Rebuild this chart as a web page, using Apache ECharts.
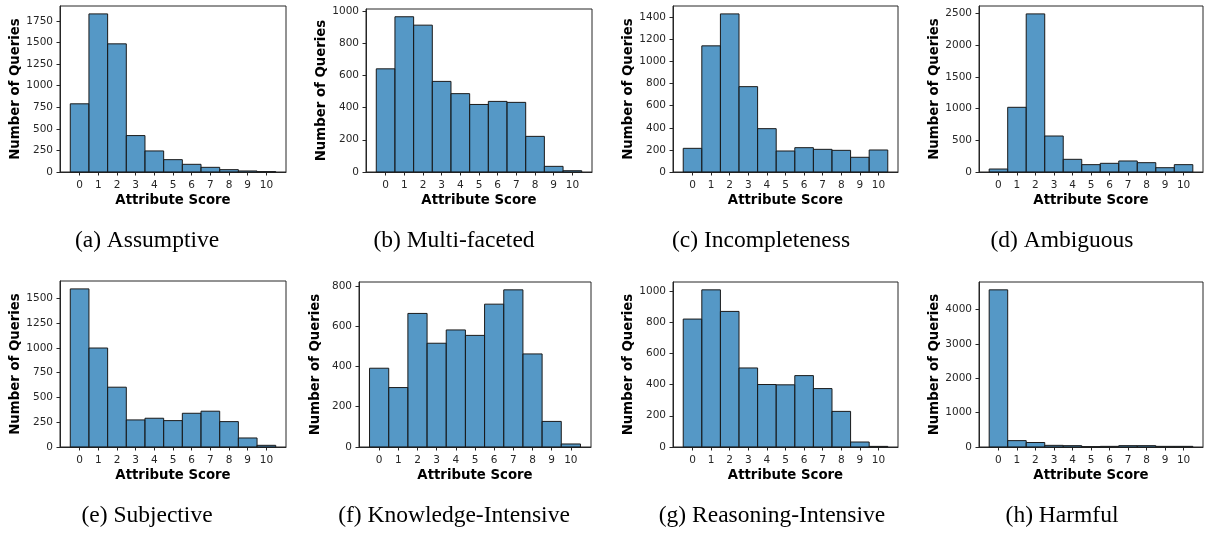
<!DOCTYPE html>
<html>
<head>
<meta charset="utf-8">
<script src="https://cdn.jsdelivr.net/npm/echarts@6/dist/echarts.min.js"></script>
<style>
html,body{margin:0;padding:0;background:#fff;}
#chart{width:1208px;height:536px;}
</style>
</head>
<body>
<div id="chart"></div>
<script>
// Scores (x categories)
const scores = [0,1,2,3,4,5,6,7,8,9,10];

// Counts per attribute score, per panel
const assumptive   = [790, 1832, 1485, 422, 244, 143, 89, 54, 27, 12, 4];
const multiFaceted = [640, 963, 911, 562, 486, 419, 438, 432, 221, 35, 8];
const incompleteness = [214, 1141, 1430, 772, 392, 190, 220, 205, 196, 133, 199];
const ambiguous    = [47, 1021, 2495, 568, 200, 116, 137, 174, 147, 68, 116];
const subjective   = [1594, 998, 603, 273, 290, 266, 340, 361, 256, 91, 17];
const knowledge    = [391, 295, 663, 515, 581, 554, 709, 780, 462, 127, 15];
const reasoning    = [819, 1006, 868, 506, 400, 398, 457, 374, 228, 32, 4];
const harmful      = [4570, 185, 130, 48, 39, 10, 19, 39, 39, 19, 19];

// Y tick labels per panel
const ticksA = [0,250,500,750,1000,1250,1500,1750];
const ticksB = [0,200,400,600,800,1000];
const ticksC = [0,200,400,600,800,1000,1200,1400];
const ticksD = [0,500,1000,1500,2000,2500];
const ticksE = [0,250,500,750,1000,1250,1500];
const ticksF = [0,200,400,600,800];
const ticksG = [0,200,400,600,800,1000];
const ticksH = [0,1000,2000,3000,4000];

// Captions
const captions = ['(a) Assumptive','(b) Multi-faceted','(c) Incompleteness','(d) Ambiguous',
                  '(e) Subjective','(f) Knowledge-Intensive','(g) Reasoning-Intensive','(h) Harmful'];

const panels = [
  {data: assumptive, ticks: ticksA, box: [60, 6, 286, 172], cap: [147, 241]},
  {data: multiFaceted, ticks: ticksB, box: [366, 9, 592, 172], cap: [454, 241]},
  {data: incompleteness, ticks: ticksC, box: [673, 6, 898, 172], cap: [761, 241]},
  {data: ambiguous, ticks: ticksD, box: [979, 6, 1203, 172], cap: [1062, 241]},
  {data: subjective, ticks: ticksE, box: [60, 281, 286, 447], cap: [147, 516]},
  {data: knowledge, ticks: ticksF, box: [359, 282, 591, 447], cap: [454, 516]},
  {data: reasoning, ticks: ticksG, box: [673, 282, 898, 447], cap: [772, 516]},
  {data: harmful, ticks: ticksH, box: [979, 282, 1203, 447], cap: [1062, 516]}
];

const FONT = 'DejaVu Sans';
const grids = [], xAxes = [], yAxes = [], series = [], graphics = [];

panels.forEach((p, i) => {
  const [l, t, r, b] = p.box;
  grids.push({left: l, top: t, width: r - l, height: b - t, show: true,
              borderColor: '#262626', borderWidth: 1, backgroundColor: 'transparent'});
  xAxes.push({
    type: 'value', gridIndex: i, min: -1.05, max: 11.05,
    name: 'Attribute Score', nameLocation: 'middle', nameGap: 22,
    nameTextStyle: {fontFamily: FONT, fontWeight: 'bold', fontSize: 13.3, color: '#000'},
    axisLine: {show: true, onZero: false, lineStyle: {color: '#262626', width: 1}},
    axisTick: {show: true, length: 3.5, lineStyle: {color: '#262626'}, customValues: scores},
    axisLabel: {fontFamily: FONT, fontSize: 10.5, color: '#262626', margin: 7.5, customValues: scores,
                formatter: v => String(v)},
    splitLine: {show: false}
  });
  const ymax = Math.max(...p.data) * 1.05;
  yAxes.push({
    type: 'value', gridIndex: i, min: 0, max: ymax,
    name: 'Number of Queries', nameLocation: 'middle', nameGap: 37,
    nameTextStyle: {fontFamily: FONT, fontWeight: 'bold', fontSize: 13.3, color: '#000'},
    axisLine: {show: true, onZero: false, lineStyle: {color: '#262626', width: 1}},
    axisTick: {show: true, length: 3.5, lineStyle: {color: '#262626'}, customValues: p.ticks},
    axisLabel: {fontFamily: FONT, fontSize: 10.5, color: '#262626', margin: 7, customValues: p.ticks,
                formatter: v => String(v)},
    splitLine: {show: false}
  });
  series.push({
    type: 'custom', xAxisIndex: i, yAxisIndex: i,
    data: scores.map((s, k) => [s, p.data[k]]),
    encode: {x: 0, y: 1},
    renderItem: function (params, api) {
      const x = api.value(0), v = api.value(1);
      const p0 = api.coord([x - 0.5, v]);
      const p1 = api.coord([x + 0.5, 0]);
      return {
        type: 'rect',
        shape: {x: p0[0], y: p0[1], width: p1[0] - p0[0], height: p1[1] - p0[1]},
        style: {fill: 'rgba(31,119,180,0.76)', stroke: '#1a1a1a', lineWidth: 1}
      };
    }
  });
  graphics.push({
    type: 'text', x: p.cap[0], y: p.cap[1],
    style: {text: captions[i], font: '23.5px "Liberation Serif"', fill: '#000',
            textAlign: 'center', textVerticalAlign: 'middle'}
  });
});

const chart = echarts.init(document.getElementById('chart'), null, {renderer: 'canvas'});
chart.setOption({
  animation: false,
  grid: grids, xAxis: xAxes, yAxis: yAxes, series: series,
  graphic: graphics
});
</script>
</body>
</html>
